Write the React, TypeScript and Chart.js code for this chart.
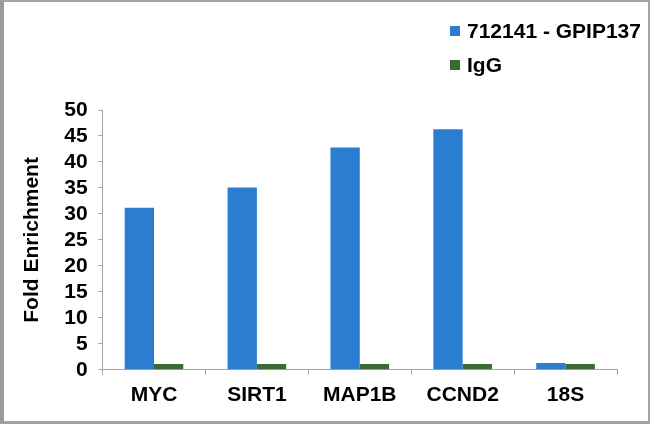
import React, { useEffect, useRef } from 'react';
import Chart from 'chart.js/auto';

const genes = ['MYC', 'SIRT1', 'MAP1B', 'CCND2', '18S'];
const antibodyValues = [31.2, 35.1, 42.8, 46.3, 1.3];
const iggValues = [1.1, 1.1, 1.1, 1.1, 1.1];
const seriesNames = ['712141 - GPIP137', 'IgG'];
const seriesColors = ['#2b7dd1', '#3a6b35'];

const FONT = "'Liberation Sans', Arial, sans-serif";

const App: React.FC = () => {
  const canvasRef = useRef<HTMLCanvasElement>(null);
  const chartRef = useRef<Chart | null>(null);

  useEffect(() => {
    document.body.style.margin = '0';
    if (!canvasRef.current) return;
    const ctx = canvasRef.current.getContext('2d');
    if (!ctx) return;

    chartRef.current = new Chart(ctx, {
      type: 'bar',
      data: {
        labels: genes,
        datasets: [
          {
            label: seriesNames[0],
            data: antibodyValues,
            backgroundColor: seriesColors[0],
            categoryPercentage: 0.57,
            barPercentage: 1.0
          },
          {
            label: seriesNames[1],
            data: iggValues,
            backgroundColor: seriesColors[1],
            categoryPercentage: 0.57,
            barPercentage: 1.0
          }
        ]
      },
      options: {
        animation: false,
        responsive: false,
        layout: {
          padding: { top: 110, right: 33, bottom: 8, left: 16 }
        },
        scales: {
          x: {
            grid: {
              display: true,
              drawOnChartArea: false,
              offset: true,
              tickLength: 5,
              color: '#a6a6a6'
            },
            border: { color: '#a6a6a6' },
            ticks: {
              padding: 8,
              color: '#000',
              font: { family: FONT, size: 21, weight: 'bold' }
            }
          },
          y: {
            min: 0,
            max: 50,
            grid: {
              drawOnChartArea: false,
              tickLength: 4,
              color: '#a6a6a6'
            },
            border: { color: '#a6a6a6' },
            ticks: {
              stepSize: 5,
              autoSkip: false,
              padding: 11,
              color: '#000',
              font: { family: FONT, size: 21, weight: 'bold' }
            },
            title: {
              display: true,
              text: 'Fold Enrichment',
              color: '#000',
              padding: { top: 4, bottom: 8 },
              font: { family: FONT, size: 21, weight: 'bold' }
            }
          }
        },
        plugins: {
          legend: { display: false },
          tooltip: { enabled: false }
        }
      }
    });

    return () => {
      if (chartRef.current) {
        chartRef.current.destroy();
        chartRef.current = null;
      }
    };
  }, []);

  return (
    <div style={{ position: 'fixed', left: 0, top: 0, width: 650, height: 424, background: '#fff' }}>
      <canvas ref={canvasRef} width={650} height={424} style={{ position: 'absolute', left: 0, top: 0 }} />
      <div style={{ position: 'absolute', left: 450, top: 18, fontFamily: FONT, fontWeight: 'bold', fontSize: 21, color: '#000' }}>
        {seriesNames.map((name, i) => (
          <div key={name} style={{ display: 'flex', alignItems: 'center', height: 26, marginBottom: 8 }}>
            <span style={{ display: 'inline-block', width: 10, height: 10, background: seriesColors[i], marginRight: 7 }} />
            <span>{name}</span>
          </div>
        ))}
      </div>
      <div
        style={{
          position: 'absolute',
          left: 0,
          top: 0,
          width: 650,
          height: 424,
          boxSizing: 'border-box',
          borderLeft: '4px solid #9a9a9a',
          borderTop: '2px solid #a3a3a3',
          borderRight: '2px solid #a3a3a3',
          borderBottom: '3px solid #a3a3a3',
          pointerEvents: 'none'
        }}
      />
    </div>
  );
};

export default App;
